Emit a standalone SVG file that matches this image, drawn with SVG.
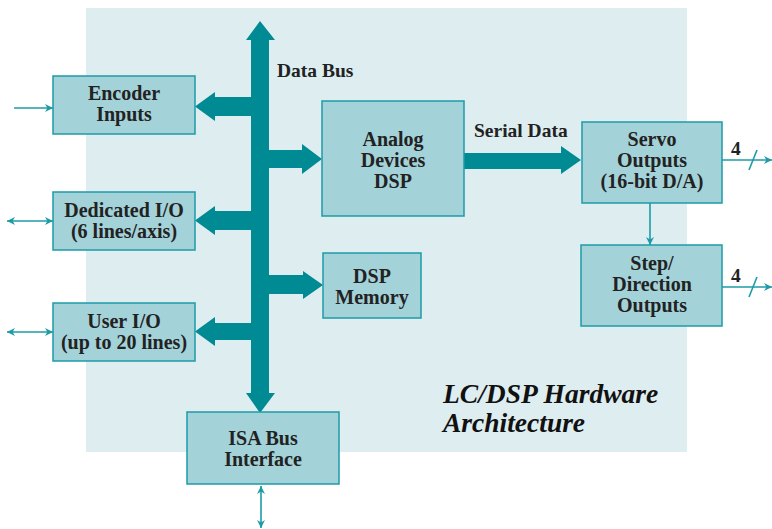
<svg xmlns="http://www.w3.org/2000/svg" width="772" height="529" viewBox="0 0 772 529">
  <style>
    .box { fill: #a4d2d9; stroke: #1c9ba6; stroke-width: 1.5; }
    .bus { fill: #008a94; }
    .wire { stroke: #1c9ba6; stroke-width: 1.6; fill: none; }
    .lbl { font-family: "Liberation Serif", "DejaVu Serif", serif; font-weight: bold; font-size: 20px; fill: #222; text-anchor: middle; }
    .tag { font-family: "Liberation Serif", "DejaVu Serif", serif; font-weight: bold; font-size: 19.5px; fill: #222; }
    .title { font-family: "Liberation Serif", "DejaVu Serif", serif; font-weight: bold; font-style: italic; font-size: 27.5px; fill: #111; }
  </style>
  <defs>
    <marker id="tip" viewBox="0 0 10 10" refX="10" refY="5" markerWidth="8" markerHeight="8" markerUnits="userSpaceOnUse" orient="auto-start-reverse">
      <path d="M0,0 L10,5 L0,10 L3,5 Z" fill="#1c9ba6"/>
    </marker>
  </defs>

  <!-- board background -->
  <rect x="86" y="8" width="601" height="444" fill="#ddedf0"/>

  <!-- connectors -->
  <g id="connectors">
    <!-- data bus trunk with arrowheads at both ends -->
    <polygon class="bus" points="260,21 275,40 269,40 269,393 275,393 260,413 246,393 251,393 251,40 246,40"/>
    <!-- bus to encoder inputs -->
    <polygon class="bus" points="251,97 215,97 215,92 195,106.5 215,121 215,116 251,116"/>
    <!-- bus to DSP -->
    <polygon class="bus" points="269,150 302,150 302,144 322,159 302,174 302,168 269,168"/>
    <!-- bus to dedicated I/O -->
    <polygon class="bus" points="251,211 215,211 215,206 195,220.5 215,235 215,230 251,230"/>
    <!-- bus to DSP memory -->
    <polygon class="bus" points="269,275 303,275 303,271 323,285 303,299 303,294 269,294"/>
    <!-- bus to user I/O -->
    <polygon class="bus" points="251,323 215,323 215,317 195,331.5 215,346 215,340 251,340"/>
    <!-- serial data link -->
    <polygon class="bus" points="464,153 561,153 561,146 581,160 561,174 561,169 464,169"/>

    <!-- external signal lines -->
    <line class="wire" x1="14" y1="108" x2="53" y2="108" marker-end="url(#tip)"/>
    <line class="wire" x1="7" y1="221" x2="53" y2="221" marker-start="url(#tip)" marker-end="url(#tip)"/>
    <line class="wire" x1="7" y1="332" x2="53" y2="332" marker-start="url(#tip)" marker-end="url(#tip)"/>
    <line class="wire" x1="261" y1="486" x2="261" y2="528" marker-start="url(#tip)" marker-end="url(#tip)"/>
    <line class="wire" x1="650" y1="203" x2="650" y2="245" marker-end="url(#tip)"/>
    <line class="wire" x1="722" y1="160" x2="772" y2="160" marker-end="url(#tip)"/>
    <line class="wire" x1="722" y1="287" x2="772" y2="287" marker-end="url(#tip)"/>
    <!-- bus-width slashes -->
    <line class="wire" x1="749" y1="170" x2="757" y2="150"/>
    <line class="wire" x1="749" y1="297" x2="757" y2="277"/>
  </g>

  <g id="encoder-inputs">
    <rect class="box" x="53" y="76" width="142" height="58"/>
    <text class="lbl" x="124" y="100">Encoder</text>
    <text class="lbl" x="124" y="121">Inputs</text>
  </g>

  <g id="dedicated-io">
    <rect class="box" x="53" y="192" width="142" height="58"/>
    <text class="lbl" x="124" y="217">Dedicated I/O</text>
    <text class="lbl" x="124" y="238">(6 lines/axis)</text>
  </g>

  <g id="user-io">
    <rect class="box" x="53" y="303" width="142" height="58"/>
    <text class="lbl" x="124" y="328">User I/O</text>
    <text class="lbl" x="124" y="349">(up to 20 lines)</text>
  </g>

  <g id="isa-bus-interface">
    <rect class="box" x="187" y="412" width="152" height="72"/>
    <text class="lbl" x="263" y="445">ISA Bus</text>
    <text class="lbl" x="263" y="466">Interface</text>
  </g>

  <g id="analog-devices-dsp">
    <rect class="box" x="322" y="101" width="142" height="115"/>
    <text class="lbl" x="393" y="146">Analog</text>
    <text class="lbl" x="393" y="167">Devices</text>
    <text class="lbl" x="393" y="188">DSP</text>
  </g>

  <g id="dsp-memory">
    <rect class="box" x="323" y="253" width="98" height="65"/>
    <text class="lbl" x="372" y="283">DSP</text>
    <text class="lbl" x="372" y="304">Memory</text>
  </g>

  <g id="servo-outputs">
    <rect class="box" x="582" y="122" width="140" height="81"/>
    <text class="lbl" x="652" y="146">Servo</text>
    <text class="lbl" x="652" y="167">Outputs</text>
    <text class="lbl" x="652" y="188">(16-bit D/A)</text>
  </g>

  <g id="step-direction-outputs">
    <rect class="box" x="581" y="245" width="141" height="81"/>
    <text class="lbl" x="652" y="270">Step/</text>
    <text class="lbl" x="652" y="291">Direction</text>
    <text class="lbl" x="652" y="312">Outputs</text>
  </g>

  <!-- labels -->
  <text class="tag" x="277" y="77">Data Bus</text>
  <text class="tag" x="474" y="137">Serial Data</text>
  <text class="tag" x="731" y="155">4</text>
  <text class="tag" x="731" y="282">4</text>
  <text class="title" x="443" y="403">LC/DSP Hardware</text>
  <text class="title" x="443" y="432">Architecture</text>
</svg>
